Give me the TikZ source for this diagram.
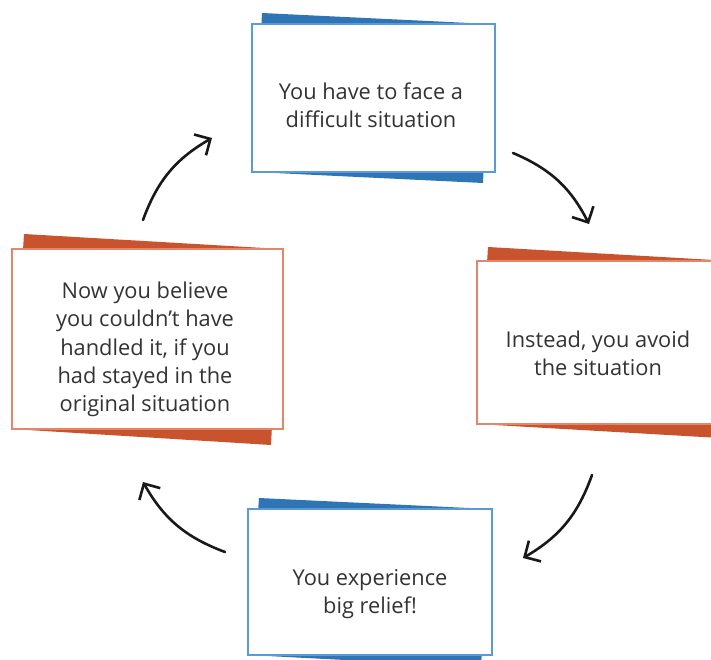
\documentclass[tikz,border=0pt]{standalone}
\usepackage{fontspec}
\setmainfont{Open Sans}[Ligatures=NoCommon]
\usetikzlibrary{arrows.meta}
\definecolor{bluefill}{HTML}{2F75B5}
\definecolor{blueline}{HTML}{5B9BD5}
\definecolor{orfill}{HTML}{C9532D}
\definecolor{orline}{HTML}{E3866A}
\definecolor{txt}{HTML}{333333}
\tikzset{
  frame/.style={rectangle, fill=white, line width=1.8pt, inner sep=0pt},
  bluebox/.style={frame, draw=blueline},
  orbox/.style={frame, draw=orline},
  lbl/.style={align=center, text=txt, inner sep=0pt, font=\fontsize{21.8}{28.2}\selectfont},
  arr/.style={line width=2.6pt, color=black!90, line cap=round,
    -{Straight Barb[length=12pt,width=24pt,line width=2.6pt]}},
}
\begin{document}
\begin{tikzpicture}[x=1pt,y=1pt]
\useasboundingbox (0,0) rectangle (711,-660);
\clip (0,0) rectangle (711,-660);
% decorative rotated back plates
\fill[bluefill] (262,-13) -- (490,-24) -- (483,-183) -- (254,-172) -- cycle;
\fill[orfill] (488,-247) -- (740,-261.5) -- (729,-438.5) -- (477,-424) -- cycle;
\fill[orfill] (24,-234) -- (281,-249) -- (271,-445) -- (12,-429) -- cycle;
\fill[bluefill] (259,-498) -- (490,-509) -- (481,-667) -- (248,-655) -- cycle;
% frames
\node[bluebox, minimum width=243pt, minimum height=148pt] (f1) at (373.5,-98) {};
\node[orbox, minimum width=242pt, minimum height=163pt] (f2) at (598,-342.5) {};
\node[orbox, minimum width=271pt, minimum height=180pt] (f3) at (147.5,-339) {};
\node[bluebox, minimum width=244pt, minimum height=146pt] (f4) at (370,-582) {};
% labels
\node[lbl] (t1) at (371,-105) {You have to face a\\difficult situation};
\node[lbl] (t2) at (598,-353.5) {Instead, you avoid\\the situation};
\node[lbl] (t3) at (145,-349.5) {Now you believe\\you couldn’t have\\handled it, if you\\had stayed in the\\original situation};
\node[lbl] (t4) at (370,-594.5) {You experience\\big relief!};
% arrows
\coordinate (a1s) at (143,-220);
\coordinate (a1e) at (212,-138);
\coordinate (a2s) at (513,-153);
\coordinate (a2e) at (589,-224);
\coordinate (a3s) at (592,-475);
\coordinate (a3e) at (523,-558);
\coordinate (a4s) at (225,-552);
\coordinate (a4e) at (143,-482);
\draw[arr] (a1s) to[bend left=20] (a1e);
\draw[arr] (a2s) to[bend left=20] (a2e);
\draw[arr] (a3s) to[bend left=20] (a3e);
\draw[arr] (a4s) to[bend left=20] (a4e);
\end{tikzpicture}
\end{document}
